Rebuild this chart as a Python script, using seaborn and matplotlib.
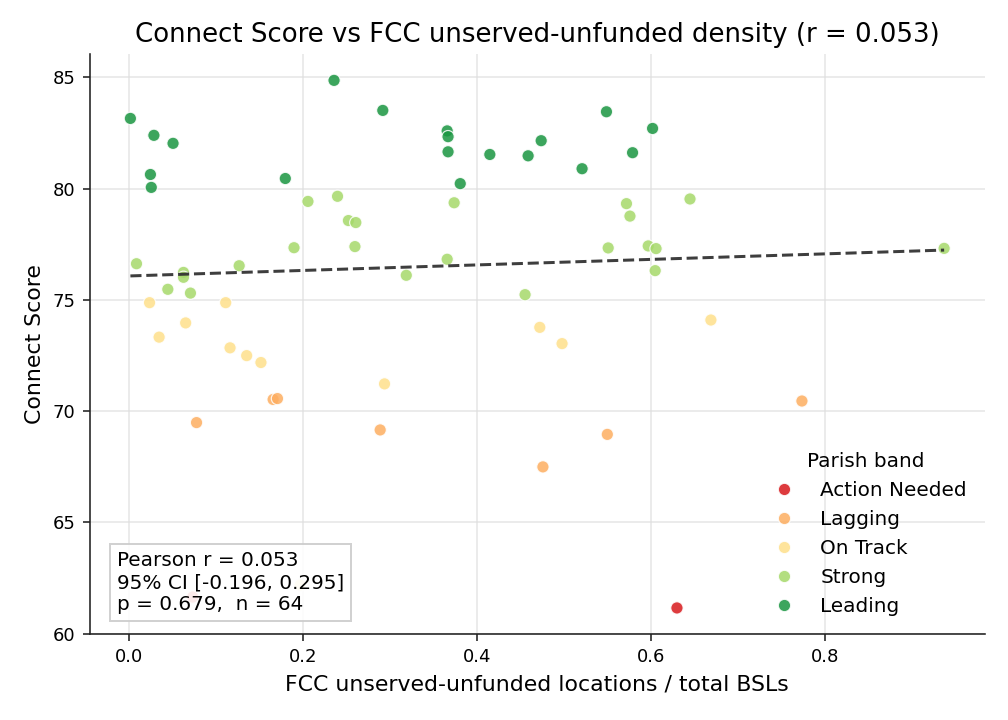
import matplotlib
matplotlib.use("Agg")
import matplotlib.pyplot as plt
import numpy as np
import pandas as pd
import seaborn as sns

# Parish values
leading_x = [0.002, 0.029, 0.051, 0.025, 0.026, 0.236, 0.292, 0.180, 0.366, 0.367,
             0.367, 0.381, 0.415, 0.459, 0.474, 0.521, 0.549, 0.579, 0.602]
leading_y = [83.16, 82.40, 82.04, 80.64, 80.06, 84.87, 83.52, 80.46, 82.60, 82.34,
             81.66, 80.23, 81.54, 81.48, 82.16, 80.90, 83.46, 81.62, 82.71]

strong_x = [0.009, 0.063, 0.063, 0.045, 0.071, 0.127, 0.206, 0.240, 0.2525, 0.261,
            0.190, 0.260, 0.319, 0.366, 0.374, 0.4555, 0.572, 0.576, 0.551, 0.597,
            0.606, 0.605, 0.645, 0.937]
strong_y = [76.63, 76.24, 76.02, 75.48, 75.31, 76.54, 79.43, 79.66, 78.57, 78.48,
            77.35, 77.40, 76.11, 76.83, 79.37, 75.24, 79.33, 78.77, 77.34, 77.43,
            77.31, 76.32, 79.54, 77.32]

ontrack_x = [0.024, 0.035, 0.0655, 0.1115, 0.1165, 0.1356, 0.152, 0.294, 0.4724,
             0.498, 0.669, 0.197]
ontrack_y = [74.88, 73.33, 73.97, 74.88, 72.85, 72.50, 72.19, 71.23, 73.77,
             73.04, 74.10, 62.19]

lagging_x = [0.166, 0.171, 0.078, 0.289, 0.550, 0.476, 0.7736]
lagging_y = [70.53, 70.57, 69.49, 69.16, 68.96, 67.50, 70.46]

action_x = [0.630, 0.0736]
action_y = [61.16, 61.65]

bands = ["Action Needed", "Lagging", "On Track", "Strong", "Leading"]
band_colors = ["#d7191c", "#fdae61", "#fee08b", "#a6d96a", "#1a9641"]

stats_text = "Pearson r = 0.053\n95% CI [-0.196, 0.295]\np = 0.679,  n = 64"
title = "Connect Score vs FCC unserved-unfunded density (r = 0.053)"

df = pd.concat([
    pd.DataFrame({"x": action_x, "y": action_y, "band": "Action Needed"}),
    pd.DataFrame({"x": lagging_x, "y": lagging_y, "band": "Lagging"}),
    pd.DataFrame({"x": ontrack_x, "y": ontrack_y, "band": "On Track"}),
    pd.DataFrame({"x": strong_x, "y": strong_y, "band": "Strong"}),
    pd.DataFrame({"x": leading_x, "y": leading_y, "band": "Leading"}),
], ignore_index=True)

sns.set_style("white")
plt.rcParams["font.family"] = ["DejaVu Sans"]
plt.rcParams.update({"text.color": "black", "axes.labelcolor": "black",
                     "xtick.color": "black", "ytick.color": "black"})

fig, ax = plt.subplots(figsize=(7, 5), dpi=144)
fig.subplots_adjust(left=0.089, right=0.977, top=0.925, bottom=0.119)

sns.scatterplot(
    data=df, x="x", y="y", hue="band", hue_order=bands,
    palette=dict(zip(bands, band_colors)), s=38, alpha=0.85,
    edgecolor="white", linewidth=0.6, ax=ax,
)

# least squares trend line over the data range
slope, intercept = np.polyfit(df["x"], df["y"], 1)
xs = np.array([df["x"].min(), df["x"].max()])
ax.plot(xs, intercept + slope * xs, ls="--", color="#333333", lw=1.5, alpha=0.95)

ax.grid(True, color="#dddddd", alpha=0.7, lw=0.8)
ax.set_axisbelow(True)
sns.despine(ax=ax)
for side in ["left", "bottom"]:
    ax.spines[side].set_color("#222222")
ax.tick_params(axis="both", labelsize=9, length=3.5, width=0.8, color="#222222",
               left=True, bottom=True)

ax.set_title(title, fontsize=13)
ax.set_xlabel("FCC unserved-unfunded locations / total BSLs", fontsize=11)
ax.set_ylabel("Connect Score", fontsize=11)

ax.text(0.03, 0.035, stats_text, transform=ax.transAxes, fontsize=10,
        va="bottom", ha="left", linespacing=1.2,
        bbox=dict(boxstyle="square,pad=0.35", fc="white", ec="#cccccc", alpha=0.9))

ax.legend(title="Parish band", loc="lower right", frameon=False,
          fontsize=10, title_fontsize=10)

fig.savefig("out.png", dpi=144)
